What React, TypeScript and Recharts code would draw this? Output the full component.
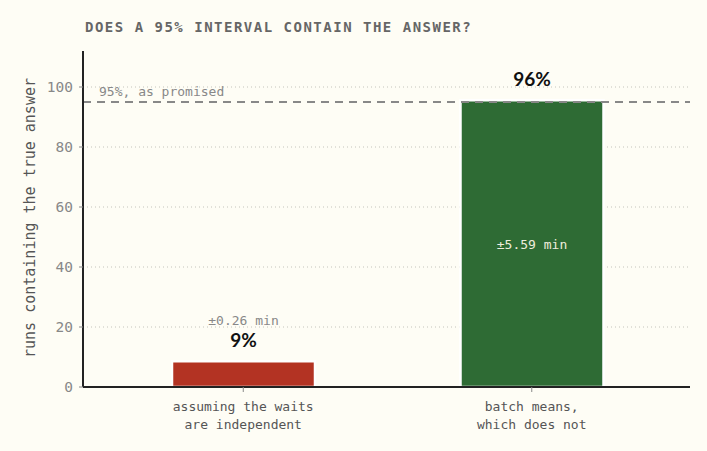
import React from "react";
import {
  BarChart,
  Bar,
  XAxis,
  YAxis,
  CartesianGrid,
  ReferenceLine,
  LabelList,
  Cell,
} from "recharts";

const categories = ["assuming the waits\nare independent", "batch means,\nwhich does not"];
const coverage = [8.6, 95.6];
const halfWidths = ["±0.26 min", "±5.59 min"];
const pctLabels = ["9%", "96%"];
const barColors = ["#b33323", "#2e6b34"];
const promised = 95;
const yTicks = [0, 20, 40, 60, 80, 100];
const gridValues = [20, 40, 60, 80, 100];

const data = categories.map((name, i) => ({
  name,
  coverage: coverage[i],
  half: halfWidths[i],
  pct: pctLabels[i],
}));

const MONO = "'DejaVu Sans Mono', monospace";
const BG = "#fefdf5";

const XTick = (props: any) => {
  const { x, y, payload } = props;
  const lines = String(payload.value).split("\n");
  return (
    <text x={x} y={y} textAnchor="middle" fontFamily={MONO} fontSize={13} fill="#555">
      {lines.map((l, i) => (
        <tspan key={i} x={x} dy={i === 0 ? 17 : 18}>
          {l}
        </tspan>
      ))}
    </text>
  );
};

const BarLabels = (props: any) => {
  const { x, y, width, height, index } = props;
  const d = data[index];
  const cx = x + width / 2;
  const inside = height > 60;
  return (
    <g>
      <text
        x={cx}
        y={y - 14}
        textAnchor="middle"
        fontFamily="Lato, sans-serif"
        fontWeight={700}
        fontSize={19}
        fill="#111"
      >
        {d.pct}
      </text>
      {inside ? (
        <text
          x={cx}
          y={y + height / 2 + 5}
          textAnchor="middle"
          fontFamily={MONO}
          fontSize={13}
          fill="#efeddc"
        >
          {d.half}
        </text>
      ) : (
        <text
          x={cx}
          y={y - 36}
          textAnchor="middle"
          fontFamily={MONO}
          fontSize={13}
          fill="#888"
        >
          {d.half}
        </text>
      )}
    </g>
  );
};

const RefLabel = (props: any) => {
  const vb = props.viewBox || {};
  return (
    <text x={vb.x + 16} y={vb.y - 6} fontFamily={MONO} fontSize={13} fill="#888">
      95%, as promised
    </text>
  );
};

export default function App() {
  return (
    <div
      style={{
        position: "fixed",
        left: 0,
        top: 0,
        width: 707,
        height: 451,
        background: BG,
      }}
    >
      <svg
        width={707}
        height={451}
        style={{ position: "absolute", left: 0, top: 0, pointerEvents: "none" }}
      >
        <text
          x={85}
          y={32}
          fontFamily={MONO}
          fontWeight={700}
          fontSize={14}
          letterSpacing={1.5}
          fill="#666"
        >
          DOES A 95% INTERVAL CONTAIN THE ANSWER?
        </text>
        <text
          x={0}
          y={0}
          transform="translate(35,218) rotate(-90)"
          textAnchor="middle"
          fontFamily={MONO}
          fontSize={15}
          fill="#555"
        >
          runs containing the true answer
        </text>
      </svg>
      <div style={{ position: "absolute", left: 0, top: 0 }}>
        <BarChart
          width={707}
          height={451}
          data={data}
          margin={{ top: 51, right: 17, bottom: 20, left: 0 }}
        >
          <CartesianGrid
            vertical={false}
            horizontalValues={gridValues}
            stroke="#c4c4bc"
            strokeDasharray="1 3"
          />
          <XAxis
            dataKey="name"
            padding={{ left: 16, right: 14 }}
            height={44}
            tick={<XTick />}
            tickLine={{ stroke: "#888" }}
            tickSize={5}
            tickMargin={2}
            axisLine={{ stroke: "#222", strokeWidth: 2 }}
            interval={0}
          />
          <YAxis
            width={83}
            domain={[0, 112]}
            ticks={yTicks}
            allowDataOverflow
            tick={{ fontFamily: MONO, fontSize: 14.5, fill: "#888" }}
            tickLine={{ stroke: "#888" }}
            tickSize={4}
            tickMargin={6}
            axisLine={{ stroke: "#222", strokeWidth: 2 }}
          />
          <ReferenceLine
            y={promised}
            stroke="#888"
            strokeWidth={2}
            strokeDasharray="8 6"
            label={<RefLabel />}
          />
          <Bar
            dataKey="coverage"
            barSize={143}
            stroke="#ffffff"
            strokeWidth={2.5}
            isAnimationActive={false}
          >
            {data.map((d, i) => (
              <Cell key={i} fill={barColors[i]} />
            ))}
            <LabelList dataKey="coverage" content={<BarLabels />} />
          </Bar>
        </BarChart>
      </div>
    </div>
  );
}
